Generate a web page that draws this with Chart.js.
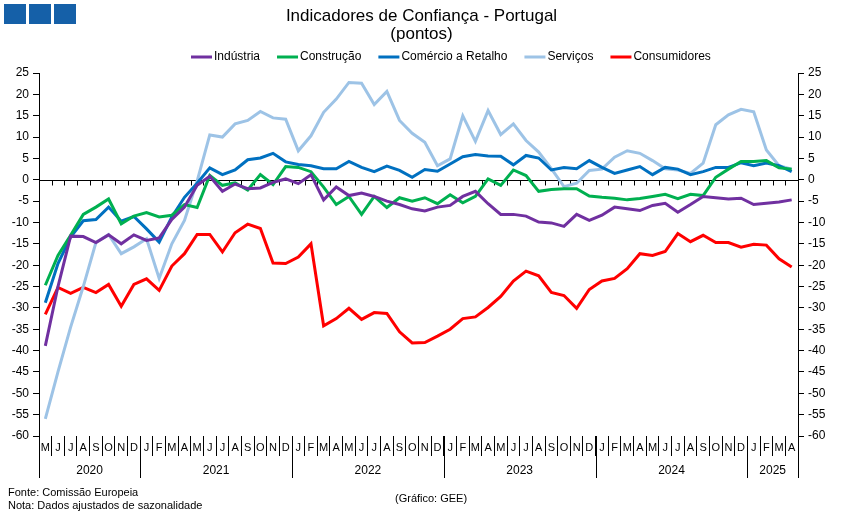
<!DOCTYPE html>
<html lang="pt">
<head>
<meta charset="utf-8">
<title>Indicadores de Confiança - Portugal</title>
<script src="https://cdn.jsdelivr.net/npm/chart.js@4.4.1/dist/chart.umd.min.js"></script>
<style>
  html, body { margin: 0; padding: 0; background: #fff; }
  #wrap { position: relative; width: 843px; height: 518px; font-family: "Liberation Sans", Arial, sans-serif; color: #000; }
  #grafico { position: absolute; left: 0; top: 0; }
  .logo { position: absolute; top: 4px; width: 22px; height: 20px; background: #1560a8; }
  .nota { position: absolute; font-size: 11px; line-height: 13px; white-space: nowrap; }
</style>
</head>
<body>
<div id="wrap">
  <canvas id="grafico" width="843" height="518"></canvas>
  <div class="logo" style="left:4px"></div>
  <div class="logo" style="left:29px"></div>
  <div class="logo" style="left:54px"></div>
  <div class="nota" style="left:8px; top:486px">Fonte: Comissão Europeia</div>
  <div class="nota" style="left:8px; top:499px">Nota: Dados ajustados de sazonalidade</div>
  <div class="nota" style="left:395px; top:492px">(Gráfico: GEE)</div>
</div>

<script>
// meses de mai/2020 a abr/2025
const meses = [
  'M','J','J','A','S','O','N','D',
  'J','F','M','A','M','J','J','A','S','O','N','D',
  'J','F','M','A','M','J','J','A','S','O','N','D',
  'J','F','M','A','M','J','J','A','S','O','N','D',
  'J','F','M','A','M','J','J','A','S','O','N','D',
  'J','F','M','A'
];
const anos = ['2020', '2021', '2022', '2023', '2024', '2025'];
const mesesPorAno = [8, 12, 12, 12, 12, 4];

const industria = [
  -38.9, -25, -13.2, -13.3, -14.7, -12.9, -15, -12.9,
  -14.2, -13.6, -9.3, -6.4, -1.3, 0.8, -2.7, -1, -2.1, -1.9, -0.6, 0.2,
  -0.9, 1.2, -4.7, -1.7, -3.7, -3.1, -3.9, -5, -5.8, -6.8, -7.3, -6.4,
  -6, -3.9, -2.7, -5.6, -8.1, -8.1, -8.5, -9.9, -10.1, -10.9, -8.1, -9.5,
  -8.3, -6.4, -6.8, -7.2, -6, -5.5, -7.6, -5.8, -3.9, -4.2, -4.5, -4.3,
  -5.8, -5.5, -5.2, -4.7
];
const construcao = [
  -24.7, -17.7, -13, -8.1, -6.4, -4.5, -10.3, -8.5,
  -7.7, -8.7, -8.3, -5.8, -6.5, 1, -1.3, -0.7, -2.4, 1.2, -1.1, 3.1,
  2.9, 1.9, -1.7, -5.8, -3.9, -8.1, -3.9, -6.5, -4.2, -5, -4.2, -5.6,
  -3.5, -5.4, -3.9, 0.2, -1.3, 2.3, 1, -2.7, -2.3, -2.1, -2.1, -3.8,
  -4.1, -4.3, -4.7, -4.4, -3.9, -3.4, -4.4, -3.4, -3.7, 0.6, 2.5, 4.3,
  4.3, 4.5, 2.8, 2.5
];
const comercio = [
  -28.8, -19.6, -13.4, -9.6, -9.3, -6.4, -9.7, -8.6,
  -11.5, -14.6, -8.7, -4.1, -0.8, 2.8, 1.2, 2.3, 4.7, 5.1, 6.2, 4.2,
  3.6, 3.3, 2.6, 2.6, 4.3, 2.9, 1.9, 3.2, 2.2, 0.6, 2.4, 2,
  3.7, 5.4, 5.9, 5.6, 5.5, 3.5, 5.7, 5.1, 2.3, 2.9, 2.6, 4.5,
  2.9, 1.5, 2.3, 3.1, 1.2, 2.9, 2.5, 1.2, 1.9, 2.9, 2.9, 4,
  3.3, 3.9, 3.3, 1.9
];
const servicos = [
  -56, -45, -34.5, -25, -14.7, -12.8, -17.3, -15.7,
  -13.8, -23.1, -15, -9.5, -0.3, 10.5, 10, 13.1, 13.9, 16, 14.5, 14.2,
  6.8, 10.3, 15.8, 18.9, 22.8, 22.6, 17.6, 20.7, 13.9, 10.9, 8.8, 3.3,
  4.9, 15, 9, 16.2, 10.6, 13.1, 9.2, 6.5, 2.6, -1.6, -0.8, 2.2,
  2.5, 5.3, 6.8, 6.2, 4.5, 2.6, 2.3, 1.5, 3.9, 12.9, 15.2, 16.5,
  15.9, 7, 3.3, 2.5
];
const consumidores = [
  -31.5, -25.2, -26.6, -25.2, -26.4, -24.5, -29.6, -24.5,
  -23.2, -25.9, -20.2, -17.3, -12.8, -12.8, -16.9, -12.4, -10.4, -11.4, -19.5, -19.6,
  -18.1, -15, -34.2, -32.5, -30.1, -32.7, -31.1, -31.3, -35.6, -38.2, -38.1, -36.6,
  -35, -32.5, -32.1, -29.9, -27.3, -23.7, -21.4, -22.5, -26.4, -27.1, -30.1, -25.7,
  -23.7, -23.1, -20.8, -17.3, -17.7, -16.8, -12.6, -14.5, -13, -14.7, -14.7, -15.8,
  -15.1, -15.3, -18.5, -20.4
];

const series = [
  { nome: 'Indústria', dados: industria, cor: '#7030a0' },
  { nome: 'Construção', dados: construcao, cor: '#00b050' },
  { nome: 'Comércio a Retalho', dados: comercio, cor: '#0070c0' },
  { nome: 'Serviços', dados: servicos, cor: '#9dc3e6' },
  { nome: 'Consumidores', dados: consumidores, cor: '#ff0000' }
];

const FONTE = '"Liberation Sans", Arial, sans-serif';
Chart.defaults.font.family = FONTE;
Chart.defaults.color = '#000';

// linha do zero, separadores de anos e legenda desenhada à mão
const extras = {
  id: 'extras',
  beforeDatasetsDraw(chart) {
    const { ctx, chartArea, scales } = chart;
    const x = scales.x;
    const y0 = Math.round(scales.y.getPixelForValue(0)) + 0.5;
    ctx.save();
    ctx.strokeStyle = '#000';
    ctx.lineWidth = 1;
    ctx.beginPath();
    ctx.moveTo(chartArea.left, y0);
    ctx.lineTo(chartArea.right, y0);
    for (let i = 0; i <= meses.length; i++) {
      const px = Math.round(x.getPixelForValue(i - 0.5)) + 0.5;
      ctx.moveTo(px, y0);
      ctx.lineTo(px, y0 + 5);
    }
    ctx.stroke();
    ctx.restore();
  },
  afterDraw(chart) {
    const { ctx, chartArea, scales } = chart;
    const x = scales.x;
    ctx.save();
    ctx.strokeStyle = '#000';
    ctx.lineWidth = 1;
    ctx.fillStyle = '#000';
    ctx.font = '12px ' + FONTE;
    ctx.textAlign = 'center';
    ctx.textBaseline = 'middle';
    let inicio = 0;
    ctx.beginPath();
    const lim = [0];
    mesesPorAno.forEach((n, k) => {
      const fim = inicio + n;
      const meio = x.getPixelForValue((inicio + fim) / 2 - 0.5);
      ctx.fillText(anos[k], meio, chartArea.bottom + 35);
      lim.push(fim);
      inicio = fim;
    });
    lim.forEach(b => {
      const px = Math.round(x.getPixelForValue(b - 0.5)) + 0.5;
      ctx.moveTo(px, chartArea.bottom);
      ctx.lineTo(px, chartArea.bottom + 42);
    });
    ctx.stroke();

    // legenda
    ctx.font = '12px ' + FONTE;
    ctx.textAlign = 'left';
    const yLeg = 57;
    let px = 191;
    series.forEach(s => {
      ctx.fillStyle = s.cor;
      ctx.fillRect(px, yLeg - 1.5, 21, 3);
      ctx.fillStyle = '#000';
      ctx.fillText(s.nome, px + 23, yLeg);
      px += 23 + ctx.measureText(s.nome).width + 17;
    });
    ctx.restore();
  }
};

new Chart(document.getElementById('grafico'), {
  type: 'line',
  data: {
    labels: meses,
    datasets: series.map(s => ({
      label: s.nome,
      data: s.dados,
      borderColor: s.cor,
      backgroundColor: s.cor,
      borderWidth: 3,
      pointRadius: 0,
      tension: 0,
      yAxisID: 'y'
    }))
  },
  options: {
    responsive: false,
    animation: false,
    layout: { padding: { top: 0, left: 0, right: 0, bottom: 38 } },
    plugins: {
      legend: { display: false },
      tooltip: { enabled: false },
      title: {
        display: true,
        text: ['Indicadores de Confiança - Portugal', '(pontos)'],
        font: { size: 17, weight: 'normal', lineHeight: 1.06 },
        color: '#000',
        padding: { top: 7, bottom: 30 }
      }
    },
    scales: {
      x: {
        type: 'category',
        offset: true,
        grid: { display: true, offset: true, drawOnChartArea: false, tickLength: 20, color: '#000' },
        border: { display: false },
        ticks: { autoSkip: false, maxRotation: 0, padding: -15, font: { size: 11 }, color: '#000' },
        afterFit: s => { s.height = 44; }
      },
      y: {
        position: 'left',
        min: -60,
        max: 25,
        ticks: { stepSize: 5, padding: 4, font: { size: 12 }, color: '#000' },
        grid: { drawOnChartArea: false, tickLength: 6, color: '#000' },
        border: { color: '#000' },
        afterFit: s => { s.width = 39; }
      },
      y2: {
        position: 'right',
        min: -60,
        max: 25,
        ticks: { stepSize: 5, padding: 4, font: { size: 12 }, color: '#000' },
        grid: { drawOnChartArea: false, tickLength: 6, color: '#000' },
        border: { color: '#000' },
        afterFit: s => { s.width = 45; }
      }
    }
  },
  plugins: [extras]
});
</script>
</body>
</html>
